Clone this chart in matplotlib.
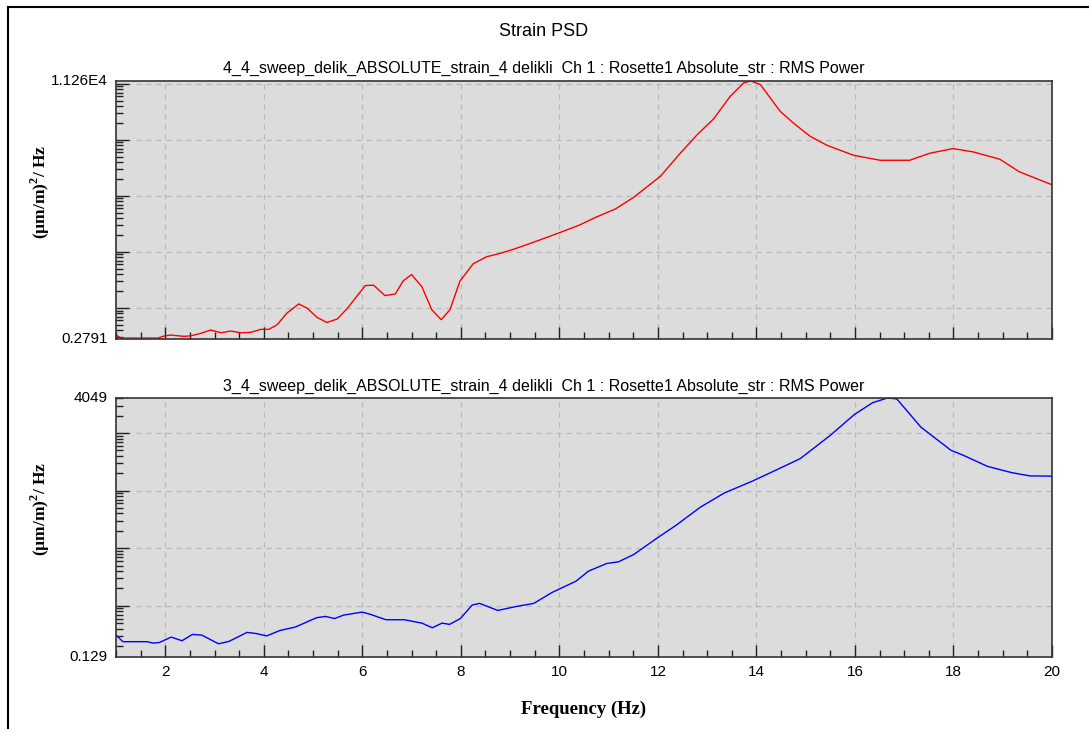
import numpy as np
import matplotlib.pyplot as plt
from matplotlib.ticker import FixedLocator, MultipleLocator, NullFormatter
from matplotlib.lines import Line2D

# ---- top channel (red) ----
FREQ_TOP = [1.02, 1.10, 1.27, 1.64, 1.85, 1.98, 2.11, 2.38, 2.52, 2.72, 2.92, 3.13,
            3.33, 3.53, 3.73, 3.94, 4.10, 4.27, 4.47, 4.71, 4.88, 5.08, 5.28, 5.49,
            5.69, 5.89, 6.06, 6.23, 6.46, 6.67, 6.83, 7.00, 7.21, 7.41, 7.60, 7.78,
            7.98, 8.25, 8.52, 8.79, 9.06, 9.33, 9.67, 10.0, 10.4, 10.75, 11.14, 11.51,
            12.05, 12.46, 12.8, 13.13, 13.47, 13.74, 13.88, 14.08, 14.48, 14.75, 15.09,
            15.43, 15.97, 16.51, 17.11, 17.52, 17.99, 18.4, 18.94, 19.34, 20.0]
PSD_TOP = [0.32, 0.29, 0.29, 0.29, 0.29, 0.316, 0.328, 0.311, 0.318, 0.352, 0.404, 0.361,
           0.387, 0.361, 0.366, 0.415, 0.415, 0.50, 0.81, 1.18, 0.99, 0.68, 0.55, 0.635,
           0.97, 1.62, 2.51, 2.55, 1.66, 1.78, 3.05, 3.95, 2.38, 0.93, 0.618, 0.93,
           3.0, 6.14, 8.19, 9.4, 11.1, 13.4, 17.2, 22.0, 30.0, 42.0, 58.6, 94.7,
           224, 586, 1245, 2371, 6025, 10400, 11260, 9730, 3250, 2000, 1160,
           803, 532, 433, 433, 578, 700, 611, 452, 269, 158]

# ---- bottom channel (blue) ----
FREQ_BOT = [1.0, 1.14, 1.63, 1.75, 1.88, 2.12, 2.34, 2.55, 2.74, 3.08, 3.29, 3.66,
            3.84, 4.06, 4.33, 4.64, 5.07, 5.25, 5.44, 5.62, 6.0, 6.17, 6.48, 6.85,
            7.21, 7.42, 7.62, 7.77, 7.99, 8.23, 8.38, 8.75, 9.12, 9.48, 9.85, 10.34,
            10.59, 10.96, 11.2, 11.51, 11.99, 12.37, 12.86, 13.35, 13.91, 14.39, 14.89,
            15.5, 15.99, 16.36, 16.66, 16.85, 17.34, 17.95, 18.2, 18.69, 19.18, 19.55, 20.0]
PSD_BOT = [0.31, 0.238, 0.238, 0.225, 0.23, 0.286, 0.247, 0.318, 0.31, 0.219, 0.24, 0.345,
           0.33, 0.30, 0.373, 0.427, 0.62, 0.653, 0.60, 0.689, 0.777, 0.707, 0.572, 0.572,
           0.50, 0.415, 0.50, 0.475, 0.60, 1.03, 1.10, 0.83, 0.97, 1.10, 1.70, 2.68,
           3.99, 5.42, 5.8, 7.77, 15.1, 25.0, 51.4, 91.0, 145, 225, 359,
           910, 2100, 3360, 4049, 3900, 1260, 500, 410, 263, 205, 180, 178]

LIM_TOP = (0.2791, 1.126e4)
LIM_BOT = (0.129, 4049)
LBL_TOP = ("0.2791", "1.126E4")
LBL_BOT = ("0.129", "4049")
TITLE_TOP = "4_4_sweep_delik_ABSOLUTE_strain_4 delikli  Ch 1 : Rosette1 Absolute_str : RMS Power"
TITLE_BOT = "3_4_sweep_delik_ABSOLUTE_strain_4 delikli  Ch 1 : Rosette1 Absolute_str : RMS Power"
YLABEL = r"(µm/m)$^\mathbf{2}$/ Hz"

plt.rcParams['font.family'] = ['Liberation Sans', 'DejaVu Sans']
plt.rcParams['mathtext.fontset'] = 'custom'
plt.rcParams['mathtext.bf'] = 'Liberation Serif:bold'
plt.rcParams['mathtext.rm'] = 'Liberation Serif'

W, H = 1089, 729
fig = plt.figure(figsize=(W / 100, H / 100), dpi=100)
fig.patch.set_facecolor("white")

# outer frame of the window (left and top edges)
for xs, ys in [([8, 1089], [7, 7]), ([8, 8], [7, 729])]:
    fig.add_artist(Line2D([x / W for x in xs], [1 - y / H for y in ys],
                          color="black", lw=1.5))
fig.text(544 / W, 1 - 31 / H, "Strain PSD", ha="center", va="center", fontsize=13)

serif = ["Liberation Serif", "DejaVu Serif"]


def panel(rect, f, p, lim, lbls, title, title_y, color, show_x):
    ax = fig.add_axes(rect)
    ax.set_facecolor("#dcdcdc")
    ax.plot(f, p, color=color, lw=1.0)
    ax.set_yscale("log")
    ax.set_xlim(1, 20)
    ax.set_ylim(*lim)
    dec = [10.0 ** k for k in range(-1, 6) if lim[0] < 10.0 ** k < lim[1]]
    ax.yaxis.set_major_locator(FixedLocator(dec))
    ax.yaxis.set_major_formatter(NullFormatter())
    ax.yaxis.set_minor_formatter(NullFormatter())
    ax.xaxis.set_major_locator(MultipleLocator(2))
    ax.xaxis.set_minor_locator(MultipleLocator(0.5))
    ax.tick_params(which="major", direction="in", length=9, width=1, color="#222222")
    ax.tick_params(which="minor", direction="in", length=5, width=1, color="#222222")
    ax.tick_params(axis="x", labelsize=11, pad=6, labelbottom=show_x)
    ax.grid(True, which="major", ls=(0, (4, 4)), color="#b8b8b8", lw=0.9)
    for s in ax.spines.values():
        s.set_color("#333333")
        s.set_linewidth(1.2)
    ax.text(-0.009, 0, lbls[0], transform=ax.transAxes, ha="right", va="center", fontsize=11)
    ax.text(-0.009, 1, lbls[1], transform=ax.transAxes, ha="right", va="center", fontsize=11)
    # subplot title is centred on the window, not on the axes
    fig.text(544 / W, 1 - title_y / H, title, ha="center", va="center", fontsize=11.5)
    ax.set_ylabel(YLABEL, family=serif, fontweight="bold", fontsize=12.5)
    ax.yaxis.set_label_coords(-0.068, 0.57)
    return ax


ax1 = panel([116 / W, 1 - 339 / H, 936 / W, 258 / H], FREQ_TOP, PSD_TOP, LIM_TOP,
            LBL_TOP, TITLE_TOP, 68, "#ff0000", False)
ax2 = panel([116 / W, 1 - 657 / H, 936 / W, 259 / H], FREQ_BOT, PSD_BOT, LIM_BOT,
            LBL_BOT, TITLE_BOT, 386, "#0000ff", True)
ax2.set_xlabel("Frequency (Hz)", family=serif, fontweight="bold", fontsize=13.5)
ax2.xaxis.set_label_coords(0.5, -0.17)

fig.savefig("out.png", dpi=100)
